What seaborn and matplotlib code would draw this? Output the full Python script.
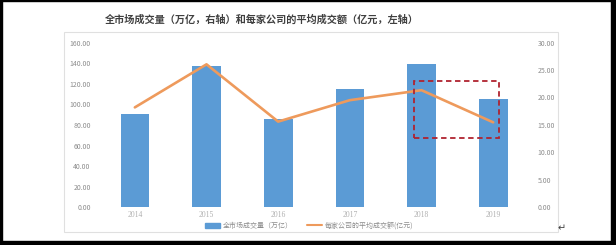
import matplotlib
matplotlib.use("Agg")
import matplotlib.pyplot as plt
import matplotlib.patches as mpatches
from matplotlib.lines import Line2D
import numpy as np
import pandas as pd
import seaborn as sns

# ---- data ----
years = ["2014", "2015", "2016", "2017", "2018", "2019"]
market_volume = [17.0, 25.8, 16.1, 21.5, 26.1, 19.8]          # 万亿, right axis (bars)
avg_per_company = [97.0, 138.8, 83.2, 104.0, 113.7, 82.5]      # 亿元, left axis (line)
left_ticks = [0, 20, 40, 60, 80, 100, 120, 140, 160]
right_ticks = [0, 5, 10, 15, 20, 25, 30]
title = "全市场成交量（万亿，右轴）和每家公司的平均成交额（亿元，左轴）"
bar_label = "全市场成交量（万亿）"
line_label = "每家公司的平均成交额(亿元)"

df = pd.DataFrame({"year": years, "vol": market_volume, "avg": avg_per_company})

sns.set_theme(style="white")
plt.rcParams["font.family"] = ["Noto Sans CJK SC", "DejaVu Sans"]
plt.rcParams["axes.unicode_minus"] = False

W, H = 616, 245
fig = plt.figure(figsize=(W / 100, H / 100), dpi=100)
fig.patch.set_facecolor("white")

ax = fig.add_axes([99 / W, 1 - 207.3 / H, (529 - 99) / W, (207.3 - 42.5) / H])
ax2 = ax.twinx()

BLUE = "#5B9BD5"
ORANGE = "#EE9A5C"

sns.barplot(data=df, x="year", y="vol", ax=ax2, color=BLUE, width=0.4,
            saturation=1, edgecolor="none")
sns.lineplot(data=df, x="year", y="avg", ax=ax, color=ORANGE, linewidth=1.9,
             sort=False)

ax.set_zorder(ax2.get_zorder() + 1)
ax.patch.set_visible(False)

ax.set_xlim(-0.5, len(years) - 0.5)
ax.set_ylim(0, 160)
ax2.set_ylim(0, 30)
ax.set_yticks(left_ticks)
ax.set_yticklabels([f"{v:.2f}" for v in left_ticks])
ax2.set_yticks(right_ticks)
ax2.set_yticklabels([f"{v:.2f}" for v in right_ticks])

for a in (ax, ax2):
    a.set_xlabel("")
    a.set_ylabel("")
    for s in a.spines.values():
        s.set_visible(False)
    a.tick_params(length=0)
    a.grid(False)

ax.tick_params(axis="y", labelsize=5, labelcolor="#8C8C8C", pad=6)
ax2.tick_params(axis="y", labelsize=5, labelcolor="#8C8C8C", pad=6)
ax.tick_params(axis="x", labelsize=5.5, labelcolor="#B0B0B0", pad=2.5)
for t in ax.get_xticklabels():
    t.set_fontfamily(["Liberation Serif", "DejaVu Serif"])
ax2.tick_params(axis="x", labelbottom=False)

# dashed annotation box
rect = mpatches.Rectangle((3.9, 67.5), 1.18, 55.2, fill=False,
                          edgecolor="#B0232F", linestyle=(0, (3, 2)),
                          linewidth=1.3, zorder=5)
ax.add_patch(rect)

# title
fig.text(262 / W, 1 - 20 / H, title, ha="center", va="center",
         fontsize=7.3, fontweight="bold", color="#404040")

# legend
handles = [mpatches.Rectangle((0, 0), 1, 0.35, color=BLUE),
           Line2D([0], [0], color=ORANGE, lw=1.5)]
fig.legend(handles, [bar_label, line_label], loc="center",
           bbox_to_anchor=(309 / W, 1 - 225.5 / H), ncol=2, frameon=False,
           fontsize=5, labelcolor="#8C8C8C", handlelength=2.2,
           columnspacing=2.0, handletextpad=0.4)

# chart area frame
fig.patches.append(mpatches.Rectangle((64 / W, 1 - 232 / H), 494 / W, 200 / H,
                                      transform=fig.transFigure, fill=False,
                                      edgecolor="#E0E0E0", linewidth=0.8))
# page border
fig.patches.append(mpatches.Rectangle((611 / W, 0), 5 / W, 1,
                                      transform=fig.transFigure, color="black"))
fig.patches.append(mpatches.Rectangle((0, 0), 1, 4 / H,
                                      transform=fig.transFigure, color="black"))
fig.patches.append(mpatches.Rectangle((0, 0), 1.5 / W, 1,
                                      transform=fig.transFigure, color="black"))
fig.patches.append(mpatches.Rectangle((0, 1 - 1.5 / H), 1, 1.5 / H,
                                      transform=fig.transFigure, color="black"))

fig.text(562 / W, 1 - 228 / H, "↵", ha="center", va="center", fontsize=7,
         color="#404040", family="DejaVu Sans")

fig.savefig("out.png", dpi=100)
